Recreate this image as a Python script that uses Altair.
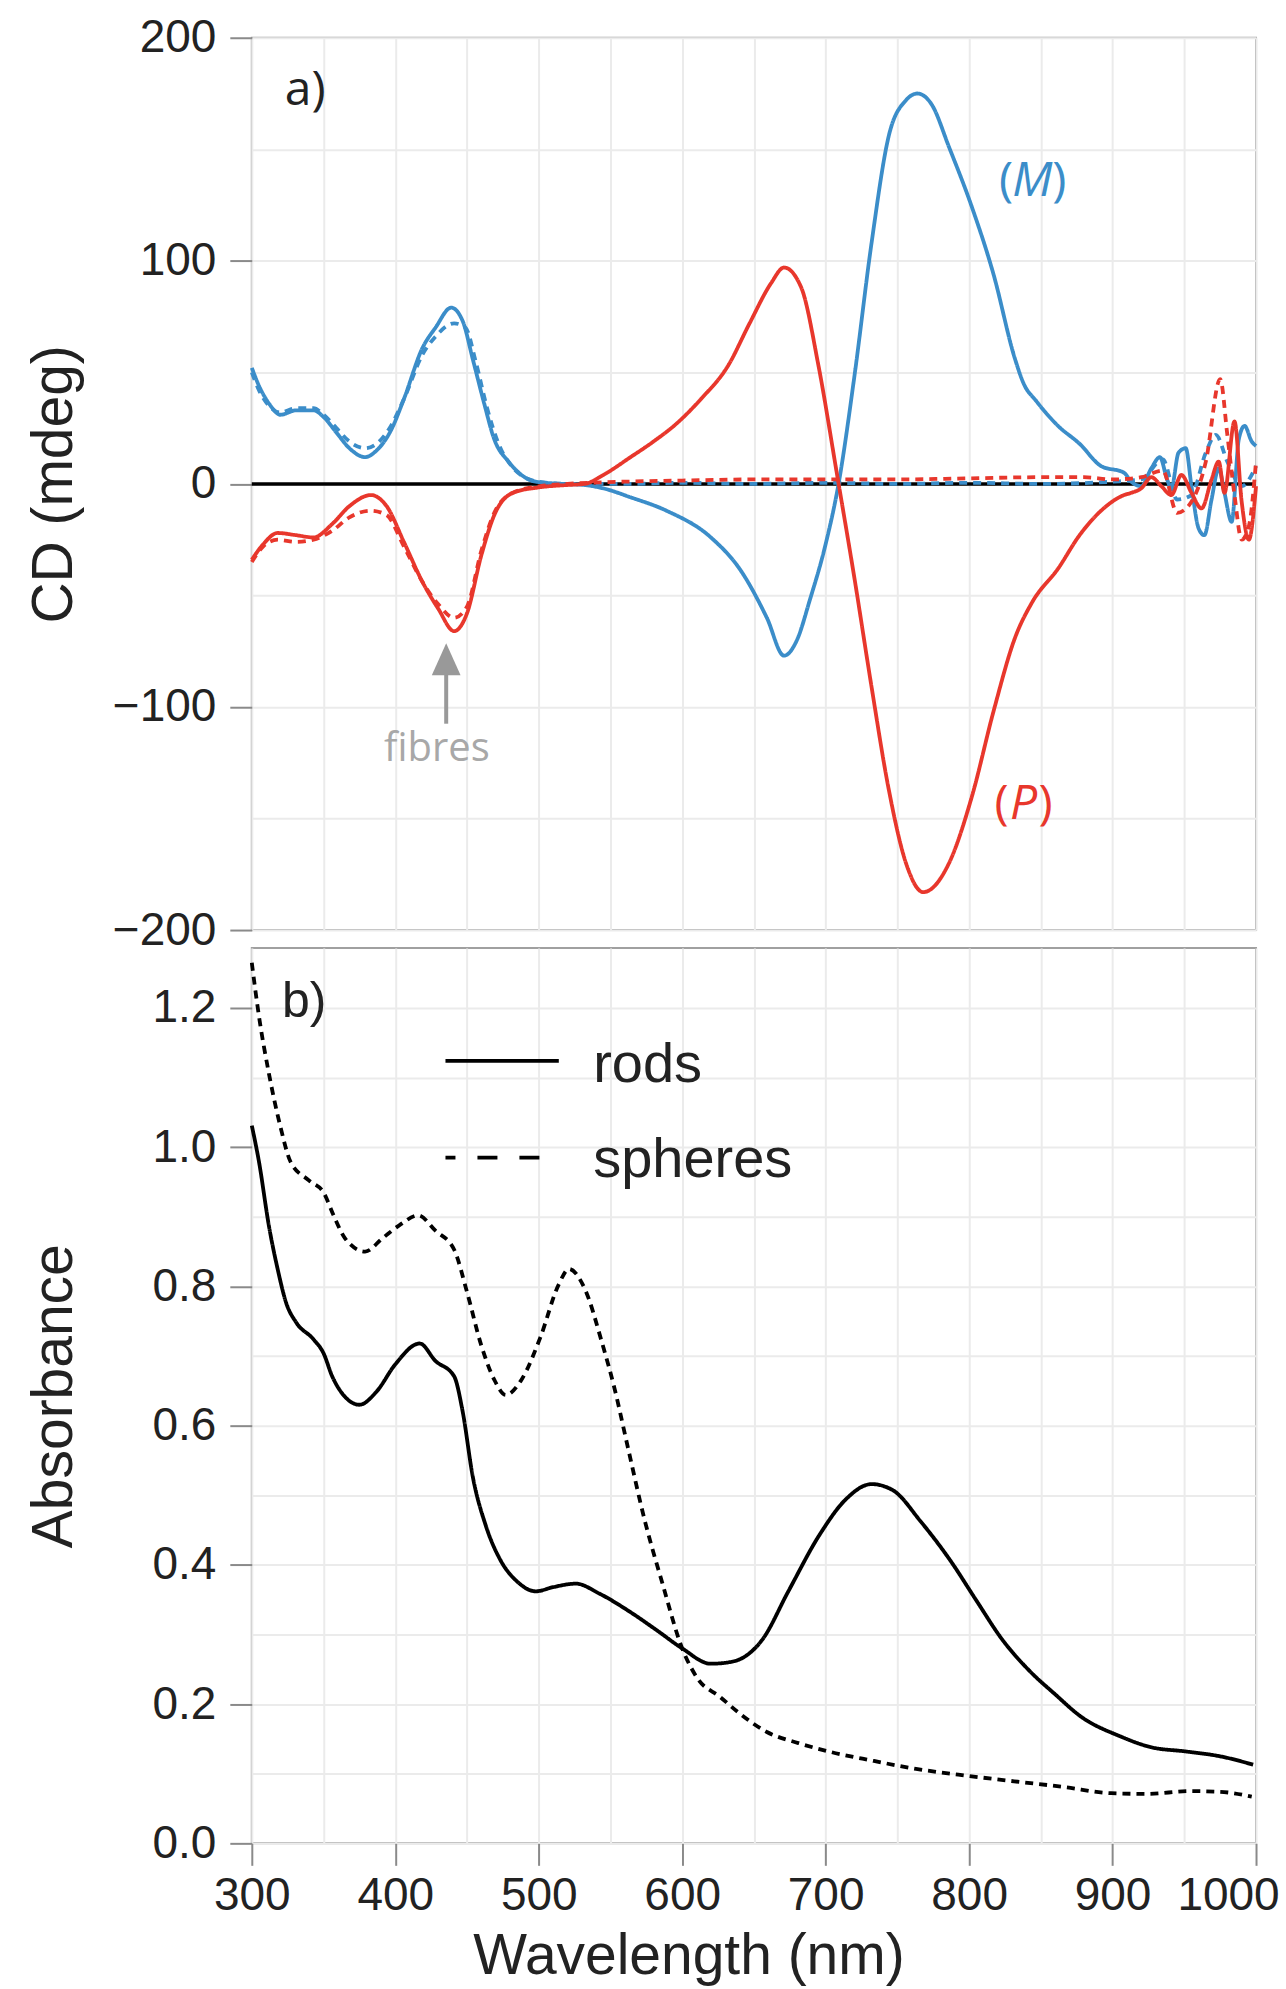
import altair as alt
import pandas as pd

# ---------------- Panel a) : CD spectra ----------------
m_rods_wl = [300, 305, 312, 320, 331, 343, 350, 359, 368, 379, 387, 397, 406, 419, 428, 439, 447, 454, 462, 469,
             479, 488, 498, 517, 532, 545, 564, 589, 620, 641, 659, 671, 680, 689, 700, 709, 720, 732, 744, 756,
             764, 774, 786, 802, 817, 832, 838, 847, 862, 877, 892, 908, 913, 920, 927, 933, 938, 941, 946, 951,
             955, 960, 964, 969, 974, 978, 983, 988, 992, 997, 1000]
m_rods_cd = [52, 44, 36, 31, 33, 33, 30, 23, 16, 12, 15, 24, 38, 61, 70, 79, 73, 56, 36, 20,
             10, 4, 1, 0, -0.5, -2, -6, -12, -24, -39, -60, -77, -70, -52, -27, 0, 48, 108, 156, 172,
             175, 170, 151, 124, 94, 56, 45, 37, 26, 18, 8, 5, 1, -1, 7, 12, 2, -2, 14, 16,
             -1, -20, -23, -7, 7, -4, -17, 20, 26, 19, 17]

p_rods_wl = [300, 308, 318, 331, 343, 356, 368, 383, 394, 406, 419, 430, 441, 450, 460, 469, 482, 501, 520, 532,
             545, 564, 580, 596, 613, 632, 647, 662, 671, 683, 695, 708, 720, 732, 744, 756, 768, 786, 802, 817,
             832, 844, 862, 877, 892, 908, 913, 920, 927, 934, 941, 948, 955, 962, 969, 974, 978, 985, 990, 995,
             1000]
p_rods_cd = [-34, -27, -22, -23, -24, -18, -10, -5, -10, -26, -44, -56, -66, -58, -32, -14, -4, -1.5, -0.5, 0,
             4, 12, 19, 27, 38, 53, 72, 90, 97, 88, 53, 4, -42, -91, -137, -170, -183, -170, -140, -102,
             -69, -53, -38, -23, -12, -5, -4, -2, 3, -1, -5, 4, -4, -11, 2, 10, -4, 28, -8, -25,
             -1]

m_sph_wl = [300, 305, 312, 320, 331, 343, 350, 359, 368, 379, 387, 397, 406, 419, 428, 441, 449, 456, 464, 472,
            481, 490, 500, 520, 560, 600, 650, 700, 750, 800, 850, 900, 920, 935, 945, 955, 965, 972, 980, 990,
            1000]
m_sph_cd = [50, 42, 35, 32, 34, 34, 31, 25, 19, 16, 18, 26, 38, 58, 66, 72, 70, 55, 34, 18,
            8, 3, 1, 0, 0, 0.5, 0, 0.5, 0, 0.5, 0, 1, 2, 11, -7, -5, 14, 22, 10, -1,
            8]

p_sph_wl = [300, 308, 318, 331, 343, 356, 368, 383, 394, 406, 419, 430, 441, 450, 460, 469, 482, 501, 520, 560,
            600, 650, 700, 750, 800, 850, 880, 900, 920, 935, 945, 955, 965, 975, 980, 985, 990, 995, 1000]
p_sph_cd = [-35, -28, -25, -26, -25, -21, -15, -12, -14, -28, -44, -54, -60, -55, -30, -13, -4, -1, 0, 1,
            1.5, 2, 2, 2, 2.5, 3, 3, 2, 3, 6, -13, -8, 10, 47, 22, -5, -25, -19, 10]

cd_series = ["M rods", "M spheres", "P rods", "P spheres"]
cd_colors = ["#3b8dc9", "#3b8dc9", "#e8372c", "#e8372c"]
cd_dashes = [[1, 0], [8, 6], [1, 0], [8, 6]]

# ---------------- Panel b) : absorbance ----------------
rods_wl = [300, 305, 312, 318, 324, 331, 343, 350, 356, 362, 375, 387, 400, 417, 428, 441, 447, 454, 463, 473,
           485, 498, 510, 526, 542, 564, 583, 600, 620, 635, 656, 674, 696, 714, 732, 747, 766, 787, 805, 823,
           842, 860, 878, 905, 927, 951, 975, 998]
rods_abs = [1.031, 0.979, 0.886, 0.825, 0.776, 0.748, 0.724, 0.704, 0.671, 0.649, 0.630, 0.649, 0.688, 0.718,
            0.693, 0.671, 0.620, 0.527, 0.457, 0.408, 0.376, 0.362, 0.368, 0.373, 0.359, 0.332, 0.305, 0.280,
            0.258, 0.261, 0.293, 0.362, 0.444, 0.494, 0.516, 0.507, 0.463, 0.406, 0.349, 0.293, 0.248, 0.214,
            0.182, 0.154, 0.138, 0.132, 0.125, 0.113]

sph_wl = [300, 305, 312, 320, 327, 340, 350, 357, 365, 379, 391, 403, 416, 428, 441, 450, 460, 469, 477, 488,
          501, 514, 521, 532, 544, 553, 562, 574, 586, 600, 611, 626, 641, 659, 681, 702, 732, 763, 799, 836,
          866, 899, 924, 954, 975, 997]
sph_abs = [1.265, 1.188, 1.105, 1.029, 0.979, 0.952, 0.935, 0.902, 0.869, 0.850, 0.869, 0.888, 0.902, 0.880,
           0.853, 0.792, 0.715, 0.666, 0.644, 0.666, 0.726, 0.803, 0.825, 0.797, 0.720, 0.652, 0.570, 0.463,
           0.375, 0.280, 0.236, 0.211, 0.185, 0.160, 0.144, 0.132, 0.119, 0.107, 0.097, 0.088, 0.081, 0.072,
           0.071, 0.075, 0.074, 0.067]

abs_series = ["rods", "spheres"]

# ---------------- tables ----------------
def frame(wl, vals, name, col):
    return pd.DataFrame({"wl": wl, col: vals, "series": name})

cd_df = pd.concat([
    frame(m_rods_wl, m_rods_cd, "M rods", "cd"),
    frame(m_sph_wl, m_sph_cd, "M spheres", "cd"),
    frame(p_rods_wl, p_rods_cd, "P rods", "cd"),
    frame(p_sph_wl, p_sph_cd, "P spheres", "cd"),
])
abs_df = pd.concat([
    frame(rods_wl, rods_abs, "rods", "a"),
    frame(sph_wl, sph_abs, "spheres", "a"),
])

W = 1005
H1 = 893
H2 = 896
FONT = "Liberation Sans"
ANN = "Open Sans"
GRID = "#ebebeb"
TICK = "#8a8a8a"
LW = 3.8

x_vals = list(range(300, 1001, 50))
x_scale = alt.Scale(domain=[300, 1000], nice=False, zero=False)

# ---- top panel ----
x_top = alt.X("wl:Q", scale=x_scale, axis=alt.Axis(
    values=x_vals, labels=False, ticks=False, domain=False, title=None,
    grid=True, gridColor=GRID, gridWidth=2))
y_top_axis = alt.Axis(
    values=list(range(-200, 201, 50)), title="CD (mdeg)", domain=False,
    grid=True, gridColor=GRID, gridWidth=2,
    labelExpr="datum.value % 100 == 0 ? datum.label : ''",
    tickSize={"condition": {"test": "datum.value % 100 == 0", "value": 22}, "value": 0},
    tickColor=TICK, tickWidth=2, labelPadding=14, labelFontSize=46, labelFont=FONT,
    labelColor="#222222", titleFont=FONT, titleFontSize=57, titleFontWeight="normal",
    titleColor="#222222", titleX=-180, titleY=H1 / 2, titleBaseline="alphabetic",
    titleAlign="center", titleAngle=270)
y_top = alt.Y("cd:Q", scale=alt.Scale(domain=[-200, 200], nice=False), axis=y_top_axis)

cd_base = alt.Chart(cd_df)
zero_line = alt.Chart(pd.DataFrame({"z": [0]})).mark_rule(color="black", strokeWidth=3.5).encode(
    y=alt.Y("z:Q"))
cd_lines = cd_base.mark_line(strokeWidth=LW, interpolate="monotone").encode(
    x=x_top, y=y_top,
    color=alt.Color("series:N", scale=alt.Scale(domain=cd_series, range=cd_colors), legend=None),
    strokeDash=alt.StrokeDash("series:N", scale=alt.Scale(domain=cd_series, range=cd_dashes), legend=None),
    detail="series:N",
)

lab_a = alt.Chart().mark_text(text="a)", font=ANN, fontSize=48, align="left", baseline="alphabetic",
                              color="#222222").encode(x=alt.datum(323), y=alt.datum(170))
m_l = alt.Chart().mark_text(text="(", font=ANN, fontSize=48, align="right", baseline="alphabetic",
                            color="#3b8dc9", dx=-19).encode(x=alt.datum(844), y=alt.datum(129))
m_m = alt.Chart().mark_text(text="M", font=ANN, fontSize=48, fontStyle="italic", align="center",
                            baseline="alphabetic", color="#3b8dc9").encode(x=alt.datum(844), y=alt.datum(129))
m_r = alt.Chart().mark_text(text=")", font=ANN, fontSize=48, align="left", baseline="alphabetic",
                            color="#3b8dc9", dx=20).encode(x=alt.datum(844), y=alt.datum(129))
p_l = alt.Chart().mark_text(text="(", font=ANN, fontSize=48, align="right", baseline="alphabetic",
                            color="#e8372c", dx=-15).encode(x=alt.datum(838), y=alt.datum(-150))
p_m = alt.Chart().mark_text(text="P", font=ANN, fontSize=48, fontStyle="italic", align="center",
                            baseline="alphabetic", color="#e8372c").encode(x=alt.datum(838), y=alt.datum(-150))
p_r = alt.Chart().mark_text(text=")", font=ANN, fontSize=48, align="left", baseline="alphabetic",
                            color="#e8372c", dx=15).encode(x=alt.datum(838), y=alt.datum(-150))
fibres = alt.Chart().mark_text(text="fibres", font=ANN, fontSize=40, align="center", baseline="alphabetic",
                               color="#a8a8a8").encode(x=alt.datum(429), y=alt.datum(-124))
arrow_shaft = alt.Chart().mark_rule(color="#999999", strokeWidth=4).encode(
    x=alt.datum(435.5), y=alt.datum(-107.5), y2=alt.datum(-82))
arrow_head = alt.Chart().mark_point(shape="M-0.9,1L0.9,1L0,-1Z", size=1024, filled=True, opacity=1,
                                    color="#999999", strokeWidth=0).encode(
    x=alt.datum(435.5), y=alt.datum(-78.6))

top = alt.layer(zero_line, cd_lines, arrow_shaft, arrow_head, fibres, lab_a,
                m_l, m_m, m_r, p_l, p_m, p_r).properties(width=W, height=H1)

# ---- bottom panel ----
x_bot_axis = alt.Axis(
    values=x_vals, title="Wavelength (nm)", domain=False,
    grid=True, gridColor=GRID, gridWidth=2,
    labelExpr="datum.value % 100 == 0 ? format(datum.value, 'd') : ''",
    tickSize={"condition": {"test": "datum.value % 100 == 0", "value": 22}, "value": 0},
    labelOffset={"condition": {"test": "datum.value == 1000", "value": -28}, "value": 0},
    labelFlush=False, tickColor=TICK, tickWidth=2, labelPadding=8, labelFontSize=46, labelFont=FONT,
    labelColor="#222222", titleFont=FONT, titleFontSize=57, titleFontWeight="normal",
    titleColor="#222222", titleX=437, titleY=130, titleBaseline="alphabetic", titleAlign="center")
x_bot = alt.X("wl:Q", scale=x_scale, axis=x_bot_axis)
y_bot_axis = alt.Axis(
    values=[round(i * 0.1, 1) for i in range(0, 13)], title="Absorbance", domain=False,
    grid=True, gridColor=GRID, gridWidth=2,
    labelExpr="round(datum.value * 10) % 2 == 0 ? format(datum.value, '.1f') : ''",
    tickSize={"condition": {"test": "round(datum.value * 10) % 2 == 0", "value": 22}, "value": 0},
    tickColor=TICK, tickWidth=2, labelPadding=14, labelFontSize=46, labelFont=FONT,
    labelColor="#222222", titleFont=FONT, titleFontSize=57, titleFontWeight="normal",
    titleColor="#222222", titleX=-180, titleY=H2 / 2, titleBaseline="alphabetic",
    titleAlign="center", titleAngle=270)
y_bot = alt.Y("a:Q", scale=alt.Scale(domain=[0, 1.286], nice=False), axis=y_bot_axis)

abs_lines = alt.Chart(abs_df).mark_line(strokeWidth=LW, interpolate="monotone", color="black").encode(
    x=x_bot, y=y_bot,
    strokeDash=alt.StrokeDash("series:N", scale=alt.Scale(domain=abs_series, range=[[1, 0], [12, 9]]),
                              legend=None),
    detail="series:N",
)
lab_b = alt.Chart().mark_text(text="b)", font=FONT, fontSize=50, align="left", baseline="alphabetic",
                              color="#222222").encode(x=alt.datum(321), y=alt.datum(1.187))
leg_rods = alt.Chart().mark_rule(color="black", strokeWidth=LW).encode(
    x=alt.datum(435), x2=alt.datum(514), y=alt.datum(1.124))
leg_sph = alt.Chart().mark_rule(color="black", strokeWidth=LW, strokeDash=[20, 22], strokeDashOffset=10).encode(
    x=alt.datum(435), x2=alt.datum(514), y=alt.datum(0.985))
leg_t1 = alt.Chart().mark_text(text="rods", font=FONT, fontSize=56, align="left", baseline="alphabetic",
                               color="#222222").encode(x=alt.datum(538), y=alt.datum(1.094))
leg_t2 = alt.Chart().mark_text(text="spheres", font=FONT, fontSize=56, align="left", baseline="alphabetic",
                               color="#222222").encode(x=alt.datum(538), y=alt.datum(0.957))

bottom = alt.layer(abs_lines, lab_b, leg_rods, leg_sph, leg_t1, leg_t2).properties(width=W, height=H2)

chart = alt.vconcat(top, bottom, spacing=18, bounds="flush").properties(
    padding={"left": 25, "top": 13, "right": 5, "bottom": 5},
).configure_view(stroke="#a0a0a0", strokeWidth=2)

chart.save("out.html", embed_options={"renderer": "svg", "actions": False})
